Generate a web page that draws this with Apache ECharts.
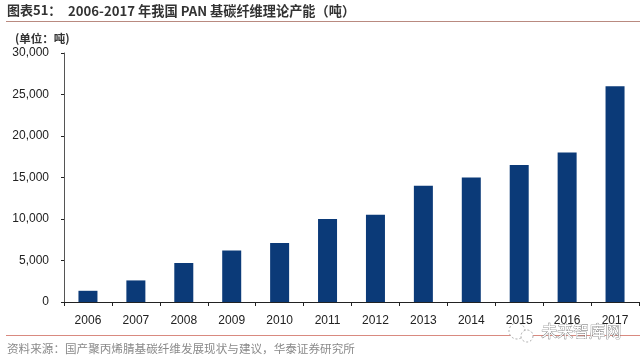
<!DOCTYPE html>
<html>
<head>
<meta charset="utf-8">
<style>
  html, body { margin: 0; padding: 0; background: #fff; }
  #chart { width: 640px; height: 361px; }
</style>
<script src="https://cdn.jsdelivr.net/npm/echarts@6/dist/echarts.min.js"></script>
</head>
<body>
<div id="chart"></div>
<script>
// 2006-2017 PAN capacity
const years = ['2006', '2007', '2008', '2009', '2010', '2011', '2012', '2013', '2014', '2015', '2016', '2017'];
const capacity = [1350, 2600, 4700, 6200, 7100, 10000, 10500, 14000, 15000, 16500, 18000, 26000];
const valueTicks = [0, 5000, 10000, 15000, 20000, 25000, 30000];

const chart = echarts.init(document.getElementById('chart'));
const latin = 'Liberation Sans, Arial, sans-serif';
const cjk = '"Noto Sans CJK SC", sans-serif';

chart.setOption({
  animation: false,
  backgroundColor: '#fff',
  grid: { left: 64, right: 1, top: 53, bottom: 59 },
  xAxis: {
    type: 'category',
    data: years,
    axisLine: { lineStyle: { color: '#222', width: 1 } },
    axisTick: { show: true, alignWithLabel: false, length: 4, lineStyle: { color: '#222' } },
    axisLabel: { color: '#222', fontFamily: latin, fontSize: 12, margin: 13 }
  },
  yAxis: {
    type: 'value',
    min: valueTicks[0],
    max: valueTicks[valueTicks.length - 1],
    interval: 5000,
    axisLine: { show: true, lineStyle: { color: '#555', width: 1 } },
    axisTick: { show: true, length: 3, lineStyle: { color: '#222' } },
    splitLine: { show: false },
    axisLabel: {
      color: '#222',
      fontFamily: latin,
      fontSize: 12,
      margin: 15,
      formatter: v => v.toLocaleString('en-US')
    }
  },
  series: [{
    type: 'bar',
    data: capacity,
    barWidth: 19,
    itemStyle: { color: '#0b3a78' }
  }],
  graphic: [
    { type: 'text', left: 7, top: 4, style: { text: '图表51：', fill: '#333', font: 'bold 13px ' + cjk } },
    { type: 'text', left: 68, top: 4, style: { text: '2006-2017 年我国 PAN 基碳纤维理论产能（吨）', fill: '#333', font: 'bold 13.2px ' + cjk } },
    { type: 'line', shape: { x1: 6, y1: 21.5, x2: 640, y2: 21.5 }, style: { stroke: '#b98a80', lineWidth: 1 } },
    { type: 'text', left: 15, top: 33, style: { text: '(单位：吨)', fill: '#333', font: 'bold 11.5px ' + cjk } },
    { type: 'line', shape: { x1: 6, y1: 335.5, x2: 640, y2: 335.5 }, style: { stroke: '#d98a80', lineWidth: 1 } },
    { type: 'text', left: 7, top: 343, style: { text: '资料来源：国产聚丙烯腈基碳纤维发展现状与建议，华泰证券研究所', fill: '#8a8a8a', font: '11.6px ' + cjk } },
    { type: 'circle', shape: { cx: 517, cy: 331, r: 8 }, style: { fill: '#fff', stroke: '#aaa', lineWidth: 1, lineDash: [2, 2] } },
    { type: 'circle', shape: { cx: 527, cy: 336, r: 6 }, style: { fill: '#fff', stroke: '#aaa', lineWidth: 1, lineDash: [2, 2] } },
    { type: 'text', left: 541, top: 323, style: { text: '未来智库网', fill: '#fff', stroke: '#666', lineWidth: 0.7, font: '16px ' + cjk } }
  ]
});
</script>
</body>
</html>
